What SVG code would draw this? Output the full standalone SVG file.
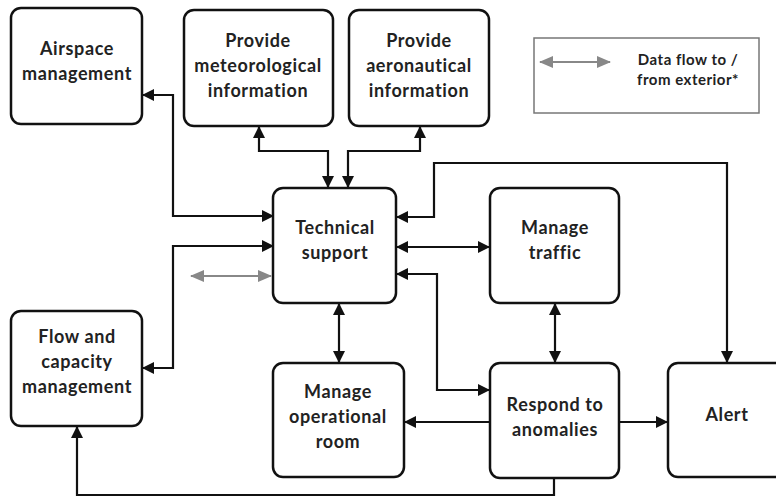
<svg xmlns="http://www.w3.org/2000/svg" width="776" height="498" viewBox="0 0 776 498">
<style>
.box{fill:#fff;stroke:#111;stroke-width:2.5}
.t{font-family:Lato,"Open Sans","Liberation Sans",sans-serif;font-weight:bold;font-size:18px;letter-spacing:0.6px;fill:#222;text-anchor:middle}
.lt{font-family:Lato,"Open Sans","Liberation Sans",sans-serif;font-weight:bold;font-size:15px;letter-spacing:0.5px;fill:#222;text-anchor:middle}
.c{fill:none;stroke:#111;stroke-width:2.2}
.g{fill:none;stroke:#888;stroke-width:2.2}
</style>
<defs>
<marker id="ah" markerUnits="userSpaceOnUse" markerWidth="12" markerHeight="12" viewBox="0 0 12 12" refX="11" refY="6" orient="auto-start-reverse">
<path d="M0,0 L12,6 L0,12 Z" fill="#111"/>
</marker>
<marker id="gh" markerUnits="userSpaceOnUse" markerWidth="14" markerHeight="12" viewBox="0 0 14 12" refX="13" refY="6" orient="auto-start-reverse">
<path d="M0,0 L14,6 L0,12 Z" fill="#888"/>
</marker>
</defs>
<rect width="776" height="498" fill="#fff"/>
<g id="legend">
<rect x="534" y="38" width="225" height="75" fill="#fff" stroke="#777" stroke-width="1.5"/>
<line x1="540" y1="62" x2="610" y2="62" class="g" marker-start="url(#gh)" marker-end="url(#gh)"/>
<text class="lt" x="688" y="65">Data flow to /</text>
<text class="lt" x="688" y="85">from exterior*</text>
</g>
<g id="connectors">
<path class="c" d="M273,216 H173 V95 H143" marker-start="url(#ah)" marker-end="url(#ah)"/>
<path class="c" d="M273,246 H173 V368 H143" marker-start="url(#ah)" marker-end="url(#ah)"/>
<path class="c" d="M328,187 V151 H259 V127" marker-start="url(#ah)" marker-end="url(#ah)"/>
<path class="c" d="M348,187 V151 H420 V127" marker-start="url(#ah)" marker-end="url(#ah)"/>
<line class="c" x1="339" y1="304" x2="339" y2="362" marker-start="url(#ah)" marker-end="url(#ah)"/>
<line class="c" x1="397" y1="247" x2="489" y2="247" marker-start="url(#ah)" marker-end="url(#ah)"/>
<path class="c" d="M397,274 H437 V390 H489" marker-start="url(#ah)" marker-end="url(#ah)"/>
<path class="c" d="M397,217 H434 V163 H727 V362" marker-start="url(#ah)" marker-end="url(#ah)"/>
<line class="c" x1="555" y1="304" x2="555" y2="362" marker-start="url(#ah)" marker-end="url(#ah)"/>
<line class="c" x1="490" y1="422" x2="405" y2="422" marker-end="url(#ah)"/>
<line class="c" x1="619" y1="422" x2="667" y2="422" marker-end="url(#ah)"/>
<path class="c" d="M554,478 V495 H77 V427" marker-end="url(#ah)"/>
<line class="g" x1="191" y1="276" x2="271" y2="276" marker-start="url(#gh)" marker-end="url(#gh)"/>
</g>
<g id="airspace">
<rect class="box" x="11" y="8" width="131" height="116" rx="10"/>
<text class="t" x="77" y="55">Airspace</text>
<text class="t" x="77" y="80">management</text>
</g>
<g id="meteo">
<rect class="box" x="184" y="10" width="149" height="116" rx="10"/>
<text class="t" x="258" y="47">Provide</text>
<text class="t" x="258" y="72">meteorological</text>
<text class="t" x="258" y="97">information</text>
</g>
<g id="aero">
<rect class="box" x="349" y="10" width="140" height="116" rx="10"/>
<text class="t" x="419" y="47">Provide</text>
<text class="t" x="419" y="72">aeronautical</text>
<text class="t" x="419" y="97">information</text>
</g>
<g id="techsupport">
<rect class="box" x="273" y="188" width="123" height="115" rx="10"/>
<text class="t" x="335" y="234">Technical</text>
<text class="t" x="335" y="259">support</text>
</g>
<g id="traffic">
<rect class="box" x="490" y="188" width="129" height="115" rx="10"/>
<text class="t" x="555" y="234">Manage</text>
<text class="t" x="555" y="259">traffic</text>
</g>
<g id="flow">
<rect class="box" x="11" y="311" width="131" height="115" rx="10"/>
<text class="t" x="77" y="343">Flow and</text>
<text class="t" x="77" y="368">capacity</text>
<text class="t" x="77" y="393">management</text>
</g>
<g id="room">
<rect class="box" x="273" y="363" width="131" height="114" rx="10"/>
<text class="t" x="338" y="398">Manage</text>
<text class="t" x="338" y="423">operational</text>
<text class="t" x="338" y="448">room</text>
</g>
<g id="respond">
<rect class="box" x="490" y="363" width="129" height="115" rx="10"/>
<text class="t" x="555" y="411">Respond to</text>
<text class="t" x="555" y="436">anomalies</text>
</g>
<g id="alert">
<rect class="box" x="668" y="363" width="122" height="114" rx="10"/>
<text class="t" x="727" y="421">Alert</text>
</g>
</svg>
